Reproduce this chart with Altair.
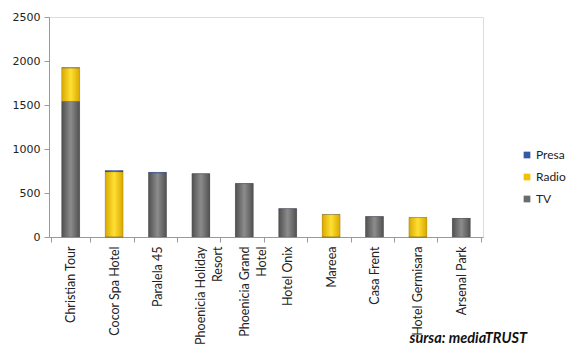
import altair as alt
import pandas as pd

categories = ["Christian Tour", "Cocor Spa Hotel", "Paralela 45", "Phoenicia Holiday\nResort",
              "Phoenicia Grand\nHotel", "Hotel Onix", "Mareea", "Casa Frent", "Hotel Germisara", "Arsenal Park"]
tv = [1540, 0, 725, 715, 605, 320, 0, 230, 0, 210]
radio = [378, 740, 0, 0, 0, 0, 255, 0, 220, 0]
presa = [6, 15, 10, 4, 3, 2, 2, 2, 1, 2]
series = ["Presa", "Radio", "TV"]
colors = ["#3558a8", "#f2c200", "#6b6b6b"]
gradients = {
    "TV": ["#505050", "#8c8c8c", "#505050"],
    "Radio": ["#d9a800", "#ffe033", "#d9a800"],
    "Presa": ["#2a4a90", "#5d82d0", "#2a4a90"],
}

rows = []
for i, c in enumerate(categories):
    rows.append({"cat": c, "series": "TV", "value": tv[i], "ord": 0})
    rows.append({"cat": c, "series": "Radio", "value": radio[i], "ord": 1})
    rows.append({"cat": c, "series": "Presa", "value": presa[i], "ord": 2})
df = pd.DataFrame(rows)

yscale = alt.Scale(domain=[0, 2500], nice=False)

xenc = alt.X("cat:N", sort=categories, title=None,
             axis=alt.Axis(labelAngle=-90, labelExpr="split(datum.label, '\\n')",
                           labelFont="Lato", labelFontSize=12.5, labelColor="#222222",
                           tickBand="extent", tickSize=5, tickColor="#9a9a9a",
                           domainColor="#9a9a9a", labelPadding=4, labelLineHeight=17))
yaxis = alt.Axis(values=[0, 500, 1000, 1500, 2000, 2500], grid=False, format="d",
                 labelFont="DejaVu Sans", labelFontSize=11, labelColor="#222222",
                 tickSize=5, tickColor="#9a9a9a", domainColor="#9a9a9a", labelPadding=4)

base = alt.Chart(df).transform_stack(
    stack="value", groupby=["cat"], as_=["v0", "v1"], sort=[alt.SortField("ord", order="ascending")]
)

bars = base.mark_bar(size=18).encode(
    x=xenc,
    y=alt.Y("v0:Q", title=None, scale=yscale, axis=yaxis),
    y2="v1:Q",
    color=alt.Color("series:N", sort=series,
                    scale=alt.Scale(domain=series, range=colors),
                    legend=alt.Legend(title=None, orient="none", legendX=472, legendY=132,
                                      symbolType="square", symbolSize=45, symbolStrokeWidth=0,
                                      labelFont="Lato", labelFontSize=12, labelColor="#222222",
                                      rowPadding=10, labelOffset=3)),
)

overlays = []
for s in series:
    g = gradients[s]
    overlays.append(
        base.transform_filter(alt.datum.series == s).mark_bar(
            size=18, stroke="#444444", strokeWidth=0.4, strokeOpacity=0.5,
            fill=alt.Gradient(gradient="linear", x1=0, x2=1, y1=0, y2=0,
                              stops=[alt.GradientStop(offset=0, color=g[0]),
                                     alt.GradientStop(offset=0.5, color=g[1]),
                                     alt.GradientStop(offset=1, color=g[2])])
        ).encode(x=alt.X("cat:N", sort=categories),
                 y=alt.Y("v0:Q", scale=yscale), y2="v1:Q")
    )

source = alt.Chart(pd.DataFrame({"t": ["sursa: mediaTRUST"]})).mark_text(
    font="Lato", fontSize=14.5, fontWeight="bold", fontStyle="italic", align="right", baseline="middle",
    color="#111111"
).encode(text="t:N", x=alt.value(478), y=alt.value(322))

chart = alt.layer(bars, *overlays, source).properties(
    width=434, height=220,
    autosize=alt.AutoSizeParams(type="none"),
    padding={"left": 49, "top": 17, "right": 90, "bottom": 120},
).configure_view(stroke=None).configure(background="white")

chart.save("out.html", embed_options={"renderer": "svg", "actions": False})
